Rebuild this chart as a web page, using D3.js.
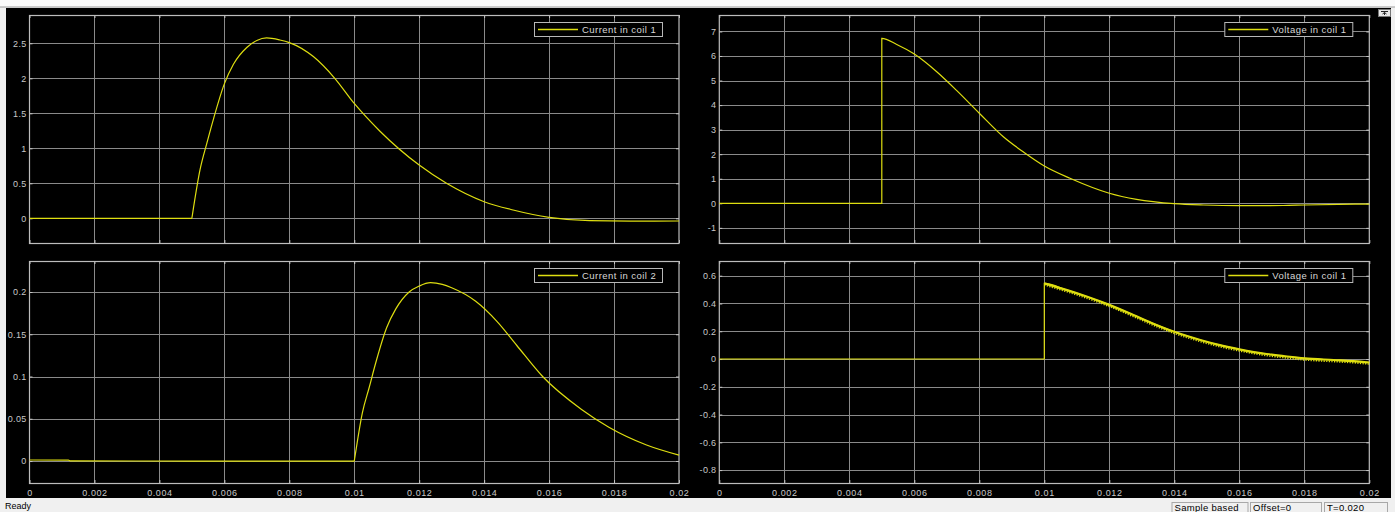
<!DOCTYPE html>
<html>
<head>
<meta charset="utf-8">
<script src="https://cdn.jsdelivr.net/npm/d3@7"></script>
<style>
  body { margin: 0; background: #f0f0f0; overflow: hidden; }
  text { font-family: "Liberation Sans", Arial, sans-serif; }
</style>
</head>
<body>
<svg id="scope" width="1395" height="512"></svg>
<script>
// time in seconds
var tCurrent1 = [0, 0.004, 0.005, 0.00501, 0.00525, 0.00546, 0.00566, 0.006, 0.00628, 0.00669, 0.007, 0.0073,
  0.00771, 0.008, 0.00874, 0.0094, 0.010, 0.0108, 0.012, 0.01284, 0.014, 0.01489, 0.016, 0.01725, 0.0185, 0.020];
var current1 = [0, 0, 0, 0.03, 0.69, 1.07, 1.41, 1.92, 2.2, 2.44, 2.54, 2.576,
  2.547, 2.51, 2.31, 2.0, 1.64, 1.24, 0.76, 0.5, 0.237, 0.119, 0.014, -0.034, -0.04, -0.039];

var tVoltage1 = [0, 0.004, 0.005, 0.0050001, 0.00546, 0.006, 0.00669, 0.0073, 0.008, 0.00874, 0.0094,
  0.010, 0.01079, 0.012, 0.01284, 0.014, 0.0149, 0.016, 0.01735, 0.018, 0.020];
var voltage1 = [0, 0, 0, 6.72, 6.47, 6.08, 5.36, 4.6, 3.67, 2.71, 2.05,
  1.52, 1.02, 0.41, 0.16, -0.016, -0.07, -0.097, -0.09, -0.07, -0.03];

var tCurrent2 = [0, 0.0012, 0.00125, 0.005, 0.009, 0.010, 0.01001, 0.01025, 0.01046, 0.01066, 0.011, 0.01128,
  0.01169, 0.012, 0.01235, 0.01271, 0.013, 0.01374, 0.0144, 0.015, 0.0158, 0.017, 0.01784, 0.019, 0.020];
var current2 = [0.0012, 0.0011, 0.0002, 0, 0, 0, 0.0024, 0.057, 0.087, 0.116, 0.158, 0.18,
  0.2, 0.207, 0.211, 0.209, 0.205, 0.189, 0.165, 0.137, 0.1, 0.061, 0.04, 0.019, 0.007];

var tVoltage2 = [0, 0.009, 0.010, 0.0100001, 0.0107, 0.0113, 0.012, 0.01274, 0.0133, 0.014, 0.0148,
  0.0154, 0.016, 0.01684, 0.0174, 0.018, 0.0189, 0.0195, 0.020];
var voltage2 = [0, 0, 0, 0.545, 0.496, 0.45, 0.39, 0.317, 0.26, 0.196, 0.137,
  0.1, 0.07, 0.036, 0.02, 0.005, -0.007, -0.015, -0.025];

var timeTicks = [0, 0.002, 0.004, 0.006, 0.008, 0.010, 0.012, 0.014, 0.016, 0.018, 0.020];
var ticksCurrent1 = [0, 0.5, 1, 1.5, 2, 2.5];
var ticksVoltage1 = [-1, 0, 1, 2, 3, 4, 5, 6, 7];
var ticksCurrent2 = [0, 0.05, 0.1, 0.15, 0.2];
var ticksVoltage2 = [-0.8, -0.6, -0.4, -0.2, 0, 0.2, 0.4, 0.6];

var legendNames = ["Current in coil 1", "Voltage in coil 1", "Current in coil 2", "Voltage in coil 1"];

var svg = d3.select("#scope");
var trace = "#dede10";

// window chrome
svg.append("rect").attr("x", 0).attr("y", 0).attr("width", 1395).attr("height", 512).attr("fill", "#f0f0f0");
svg.append("rect").attr("x", 0).attr("y", 0).attr("width", 1395).attr("height", 7).attr("fill", "#fafafa");
svg.append("line").attr("x1", 0).attr("x2", 1395).attr("y1", 7).attr("y2", 7).attr("stroke", "#9c9c9c");
svg.append("rect").attr("x", 6).attr("y", 8).attr("width", 1385).attr("height", 490).attr("fill", "#000");

// undock button
svg.append("rect").attr("x", 1378.5).attr("y", 9.5).attr("width", 12).attr("height", 7)
  .attr("fill", "#e8e8e8").attr("stroke", "#777");
svg.append("path").attr("d", "M1381,11.5 H1388 M1384.5,15 V12.5 M1382.5,14 L1384.5,12.5 L1386.5,14")
  .attr("stroke", "#222").attr("fill", "none");

var panels = [
  {x0: 29.5, x1: 679, y0: 15, y1: 243, dom: [-0.353, 2.904], ticks: ticksCurrent1, t: tCurrent1, v: current1, xlab: false, ripple: false},
  {x0: 719.3, x1: 1369.3, y0: 15, y1: 243, dom: [-1.617, 7.67], ticks: ticksVoltage1, t: tVoltage1, v: voltage1, xlab: false, ripple: false},
  {x0: 29.5, x1: 679, y0: 261, y1: 483, dom: [-0.026, 0.2367], ticks: ticksCurrent2, t: tCurrent2, v: current2, xlab: true, ripple: false},
  {x0: 719.3, x1: 1369.3, y0: 261, y1: 483, dom: [-0.893, 0.706], ticks: ticksVoltage2, t: tVoltage2, v: voltage2, xlab: true, ripple: true}
];

function fmt(d) {
  return String(+d.toFixed(4));
}

panels.forEach(function(p, i) {
  var x = d3.scaleLinear().domain([0, 0.02]).range([p.x0, p.x1]);
  var y = d3.scaleLinear().domain(p.dom).range([p.y1, p.y0]);
  var g = svg.append("g");

  //grid
  g.selectAll(".vg").data(timeTicks.slice(1, -1)).enter().append("line")
    .attr("x1", function(d) { return Math.round(x(d)) + 0.5; })
    .attr("x2", function(d) { return Math.round(x(d)) + 0.5; })
    .attr("y1", p.y0).attr("y2", p.y1)
    .attr("stroke", "#8a8a8a").attr("stroke-width", 1);
  g.selectAll(".hg").data(p.ticks).enter().append("line")
    .attr("y1", function(d) { return Math.round(y(d)) + 0.5; })
    .attr("y2", function(d) { return Math.round(y(d)) + 0.5; })
    .attr("x1", p.x0).attr("x2", p.x1)
    .attr("stroke", "#8a8a8a").attr("stroke-width", 1);

  // axes with inward ticks
  var ax = [
    d3.axisBottom(x).tickValues(timeTicks).tickSize(-3).tickPadding(7).tickFormat(p.xlab ? fmt : ""),
    d3.axisTop(x).tickValues(timeTicks).tickSize(-3).tickFormat(""),
    d3.axisLeft(y).tickValues(p.ticks).tickSize(-3).tickPadding(3).tickFormat(fmt),
    d3.axisRight(y).tickValues(p.ticks).tickSize(-3).tickFormat("")
  ];
  var pos = ["translate(0," + p.y1 + ")", "translate(0," + p.y0 + ")",
             "translate(" + p.x0 + ",0)", "translate(" + p.x1 + ",0)"];
  ax.forEach(function(a, k) {
    var ag = g.append("g").attr("transform", pos[k]).call(a);
    ag.select(".domain").remove();
    ag.selectAll("line").attr("stroke", "#c4c4c4");
    ag.selectAll("text").attr("fill", "#c8c8c8").style("font-size", "9px")
      .style("letter-spacing", k == 0 ? "0.6px" : "0.3px");
  });

  g.append("rect").attr("x", p.x0).attr("y", p.y0 + 0.5)
    .attr("width", p.x1 - p.x0).attr("height", p.y1 - p.y0)
    .attr("fill", "none").attr("stroke", "#bdbdbd").attr("stroke-width", 1.2);

  var line = d3.line()
    .x(function(d) { return x(d[0]); })
    .y(function(d) { return y(d[1]); })
    .curve(d3.curveMonotoneX);

  var pts = p.t.map(function(t, j) { return [t, p.v[j]]; });

  g.append("path").datum(pts).attr("d", line)
    .attr("fill", "none").attr("stroke", trace).attr("stroke-width", 1.2);

  if (p.ripple) {
    // the second voltage trace is a noisy band after the step
    var jump = d3.maxIndex(pts, function(d) { return d[1]; });
    var after = pts.slice(jump);
    g.append("path").datum(after).attr("d", line)
      .attr("fill", "none").attr("stroke", trace).attr("stroke-width", 2.2);
    g.append("path").datum(after).attr("d", line)
      .attr("transform", "translate(0,1.6)")
      .attr("fill", "none").attr("stroke", trace).attr("stroke-width", 1.6)
      .attr("stroke-dasharray", "1.2,1.4");
  }

  // legend
  var lx = p.x1 - 145, ly = p.y0 + 7;
  g.append("rect").attr("x", lx + 0.5).attr("y", ly + 0.5).attr("width", 128).attr("height", 14)
    .attr("fill", "#000").attr("stroke", "#b8b8b8");
  g.append("line").attr("x1", lx + 4).attr("x2", lx + 44).attr("y1", ly + 7.5).attr("y2", ly + 7.5)
    .attr("stroke", trace).attr("stroke-width", 1.3);
  g.append("text").attr("x", lx + 48).attr("y", ly + 11)
    .attr("fill", "#d8d8d8").style("font-size", "9.5px").style("letter-spacing", "0.45px")
    .text(legendNames[i]);
});

// status bar
svg.append("text").attr("x", 5).attr("y", 509).attr("fill", "#000").style("font-size", "9px").text("Ready");
var boxes = [[1171.5, 76, "Sample based"], [1250, 71, "Offset=0"], [1324, 63, "T=0.020"]];
boxes.forEach(function(b) {
  svg.append("rect").attr("x", b[0] + 0.5).attr("y", 502.5).attr("width", b[1]).attr("height", 12)
    .attr("fill", "#f0f0f0").attr("stroke", "#a8a8a8");
  svg.append("text").attr("x", b[0] + 3).attr("y", 511).attr("fill", "#000")
    .style("font-size", "9.5px").style("letter-spacing", "0.3px").text(b[2]);
});
</script>
</body>
</html>
